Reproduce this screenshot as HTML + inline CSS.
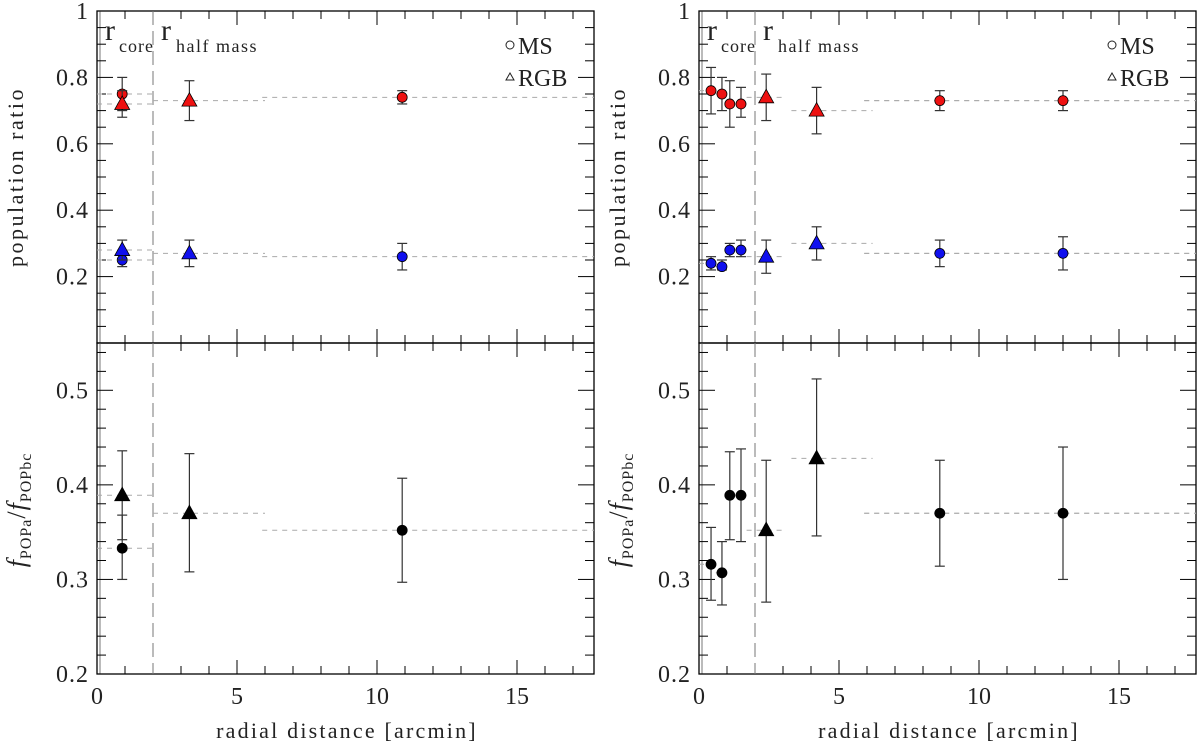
<!DOCTYPE html>
<html><head><meta charset="utf-8"><style>
body{margin:0;background:#fff;}
svg{display:block;font-family:"Liberation Serif",serif;}
</style></head><body>
<svg id="c" width="1200" height="745" viewBox="0 0 1200 745"></svg>
<script>
// ---- data ----
const L_top_x   = [0.9, 0.9, 3.3, 10.9, 0.9, 0.9, 3.3, 10.9];
const L_top_y   = [0.75, 0.72, 0.73, 0.74, 0.25, 0.28, 0.27, 0.26];
const L_top_lo  = [0.70, 0.68, 0.67, 0.72, 0.23, 0.25, 0.23, 0.22];
const L_top_hi  = [0.80, 0.76, 0.79, 0.76, 0.27, 0.31, 0.31, 0.30];
const L_top_mk  = ['c','t','t','c','c','t','t','c'];
const L_top_col = ['r','r','r','r','b','b','b','b'];
const L_top_b0  = [0, 0, 2, 5.9, 0, 0, 2, 5.9];
const L_top_b1  = [2, 2, 6, 17.75, 2, 2, 6, 17.75];

const L_bot_x  = [0.9, 0.9, 3.3, 10.9];
const L_bot_y  = [0.389, 0.333, 0.37, 0.352];
const L_bot_lo = [0.342, 0.30, 0.308, 0.297];
const L_bot_hi = [0.436, 0.368, 0.433, 0.407];
const L_bot_mk = ['t','c','t','c'];
const L_bot_b0 = [0, 0, 2, 5.9];
const L_bot_b1 = [2, 2, 6, 17.75];

const R_top_x  = [0.43, 0.82, 1.1, 1.5, 2.4, 4.2, 8.6, 13.0, 0.43, 0.82, 1.1, 1.5, 2.4, 4.2, 8.6, 13.0];
const R_top_y  = [0.76, 0.75, 0.72, 0.72, 0.74, 0.70, 0.73, 0.73, 0.24, 0.23, 0.28, 0.28, 0.26, 0.30, 0.27, 0.27];
const R_top_lo = [0.69, 0.70, 0.65, 0.68, 0.67, 0.63, 0.70, 0.70, 0.22, 0.22, 0.26, 0.26, 0.21, 0.25, 0.23, 0.22];
const R_top_hi = [0.83, 0.80, 0.79, 0.77, 0.81, 0.77, 0.76, 0.76, 0.26, 0.25, 0.30, 0.31, 0.31, 0.35, 0.31, 0.32];
const R_top_mk = ['c','c','c','c','t','t','c','c','c','c','c','c','t','t','c','c'];
const R_top_col= ['r','r','r','r','r','r','r','r','b','b','b','b','b','b','b','b'];
const R_top_b0 = [0,0.6,0.95,1.3,1.7,3.3,5.9,5.9,0,0.6,0.95,1.3,1.7,3.3,5.9,5.9];
const R_top_b1 = [0.6,0.95,1.3,1.7,3.1,6.2,17.75,17.75,0.6,0.95,1.3,1.7,3.1,6.2,17.75,17.75];

const R_bot_x  = [0.43, 0.82, 1.1, 1.5, 2.4, 4.2, 8.6, 13.0];
const R_bot_y  = [0.316, 0.307, 0.389, 0.389, 0.352, 0.428, 0.370, 0.370];
const R_bot_lo = [0.278, 0.273, 0.342, 0.340, 0.276, 0.346, 0.314, 0.300];
const R_bot_hi = [0.355, 0.340, 0.435, 0.438, 0.426, 0.512, 0.426, 0.440];
const R_bot_mk = ['c','c','c','c','t','t','c','c'];
const R_bot_b0 = [0,0.6,0.95,1.3,1.7,3.3,5.9,5.9];
const R_bot_b1 = [0.6,0.95,1.3,1.7,3.1,6.2,17.75,17.75];

const xTicks = [0, 5, 10, 15];
const topTicks = [0.2, 0.4, 0.6, 0.8, 1];
const botTicks = [0.2, 0.3, 0.4, 0.5];

const NS='http://www.w3.org/2000/svg';
const svg=document.getElementById('c');
function el(t,a,p){const e=document.createElementNS(NS,t);for(const k in a)e.setAttribute(k,a[k]);(p||svg).appendChild(e);return e;}
const XMAX=17.75, PX=28;
function mkX(x0){return v=>x0+v*PX;}
function mkY(y0,y1,v0,v1){return v=>y1-(v-v0)/(v1-v0)*(y1-y0);}
const COL={r:'#ee1111',b:'#1010ee',k:'#000'};

function panel(name,x0,yT0,yT1,vmin,vmax,ticks,minor,showLabels){
  const X=mkX(x0),Y=mkY(yT0,yT1,vmin,vmax);
  const g=el('g',{});
  
  
  const x1=X(XMAX);
  el('rect',{x:x0,y:yT0,width:x1-x0,height:yT1-yT0,fill:'none',stroke:'#000','stroke-width':1.3},g);
  el('line',{x1:x0+3,y1:yT0,x2:x0+3,y2:yT1,stroke:'#555','stroke-width':0.8},g);
  for(let v=0;v<=XMAX;v+=1){const maj=v%5===0,l=maj?14:8;
    el('line',{x1:X(v),y1:yT1,x2:X(v),y2:yT1-l,stroke:'#000','stroke-width':1},g);
    el('line',{x1:X(v),y1:yT0,x2:X(v),y2:yT0+l,stroke:'#000','stroke-width':1},g);}
  for(let v=vmin;v<=vmax+1e-9;v+=minor){const vv=Math.round(v*1000)/1000;
    const maj=ticks.some(t=>Math.abs(t-vv)<1e-6),l=maj?16:9;
    el('line',{x1:x0,y1:Y(vv),x2:x0+l,y2:Y(vv),stroke:'#000','stroke-width':1},g);
    el('line',{x1:x1,y1:Y(vv),x2:x1-l,y2:Y(vv),stroke:'#000','stroke-width':1},g);}
  ticks.forEach(t=>{const tx=el('text',{x:x0-8,y:Y(t)+8,'text-anchor':'end','font-size':24,'letter-spacing':1,fill:'#222'},g);
    tx.textContent=String(t===1?'1':t.toFixed(1));
    
    });
  if(showLabels){xTicks.forEach(t=>{const tx=el('text',{x:X(t),y:yT1+30,'text-anchor':'middle','font-size':24,fill:'#222'},g);
    tx.textContent=t;
    
    });}
  el('line',{x1:X(2),y1:yT0,x2:X(2),y2:yT1,stroke:'#777','stroke-width':1,'stroke-dasharray':'14,6'},g);
  return {X,Y,g};
}
function series(P,xs,ys,lo,hi,mk,col,b0,b1,name){
  for(let i=0;i<xs.length;i++){
    const seg=el('line',{x1:P.X(b0[i]),y1:P.Y(ys[i]),x2:P.X(b1[i]),y2:P.Y(ys[i]),stroke:'#aaa','stroke-width':1,'stroke-dasharray':'5,5'},P.g);
    
    
  }
  for(let i=0;i<xs.length;i++){
    const c=COL[col?col[i]:'k'];
    const x=P.X(xs[i]),y=P.Y(ys[i]);
    const eg=el('g',{stroke:'#333','stroke-width':1.2},P.g);
    
    
    el('line',{x1:x,y1:P.Y(lo[i]),x2:x,y2:P.Y(hi[i])},eg);
    el('line',{x1:x-5,y1:P.Y(lo[i]),x2:x+5,y2:P.Y(lo[i])},eg);
    el('line',{x1:x-5,y1:P.Y(hi[i]),x2:x+5,y2:P.Y(hi[i])},eg);
    let m;
    if(mk[i]==='c') m=el('circle',{cx:x,cy:y,r:5,fill:c,stroke:'#000','stroke-width':0.8},P.g);
    else m=el('polygon',{points:`${x},${y-8} ${x-7.5},${y+5.5} ${x+7.5},${y+5.5}`,fill:c,stroke:'#000','stroke-width':0.8},P.g);
    
    
  }
}
function txt(x,y,s,fs,attrs){const t=el('text',Object.assign({x:x,y:y,'font-size':fs,fill:'#222'},attrs||{}));t.textContent=s;return t;}

const LT=panel('left-top-panel',97,11,343,0,1,topTicks,0.05,false);
series(LT,L_top_x,L_top_y,L_top_lo,L_top_hi,L_top_mk,L_top_col,L_top_b0,L_top_b1,'left-ratio');
const LB=panel('left-bottom-panel',97,343,674,0.2,0.55,botTicks,0.02,true);
series(LB,L_bot_x,L_bot_y,L_bot_lo,L_bot_hi,L_bot_mk,null,L_bot_b0,L_bot_b1,'left-fratio');
const RT=panel('right-top-panel',699,11,343,0,1,topTicks,0.05,false);
series(RT,R_top_x,R_top_y,R_top_lo,R_top_hi,R_top_mk,R_top_col,R_top_b0,R_top_b1,'right-ratio');
const RB=panel('right-bottom-panel',699,343,674,0.2,0.55,botTicks,0.02,true);
series(RB,R_bot_x,R_bot_y,R_bot_lo,R_bot_hi,R_bot_mk,null,R_bot_b0,R_bot_b1,'right-fratio');

[[97,'left'],[699,'right']].forEach(([x0,side])=>{
  let t=txt(x0+8,40,'r',30);
  t=txt(x0+22,52,'core',18,{'letter-spacing':1});
  t=txt(x0+64,40,'r',30);
  t=txt(x0+79,52,'half mass',18,{'letter-spacing':1.5});
  const lx=x0+413;
  let c=el('circle',{cx:lx,cy:45,r:4,fill:'none',stroke:'#222','stroke-width':1});
  t=txt(lx+8,54,'MS',24);
  let p=el('polygon',{points:`${lx},${73} ${lx-4},${80} ${lx+4},${80}`,fill:'none',stroke:'#222','stroke-width':1});
  t=txt(lx+8,86,'RGB',24);
  t=txt(x0+250,738,'radial distance [arcmin]',22,{'text-anchor':'middle','letter-spacing':2.2});
  const yl=x0-76;
  t=txt(0,0,'population ratio',22,{'text-anchor':'middle','letter-spacing':2.5,transform:`translate(${yl+2},177) rotate(-90)`});
  const g=el('g',{transform:`translate(${yl+4},510) rotate(-90)`});
  
  
  const tt=el('text',{x:0,y:0,'text-anchor':'middle','font-size':26,fill:'#222','letter-spacing':1},g);
  tt.innerHTML='<tspan font-style="italic">f</tspan><tspan font-size="16" dy="6">POPa</tspan><tspan dy="-6">/</tspan><tspan font-style="italic">f</tspan><tspan font-size="16" dy="6">POPbc</tspan>';
});
</script>
</body></html>
